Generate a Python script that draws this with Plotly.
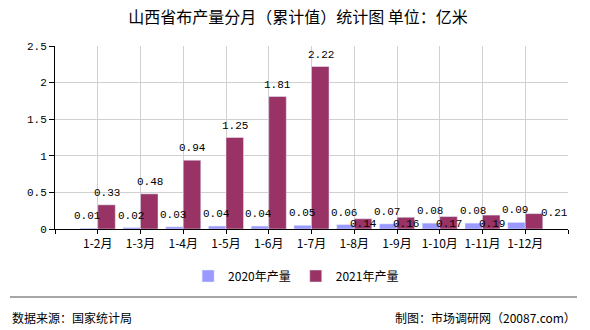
import plotly.graph_objects as go

categories = ["1-2月", "1-3月", "1-4月", "1-5月", "1-6月", "1-7月",
              "1-8月", "1-9月", "1-10月", "1-11月", "1-12月"]
output_2020 = [0.01, 0.02, 0.03, 0.04, 0.04, 0.05, 0.06, 0.07, 0.08, 0.08, 0.09]
output_2021 = [0.33, 0.48, 0.94, 1.25, 1.81, 2.22, 0.14, 0.16, 0.17, 0.19, 0.21]
y_ticks = [0, 0.5, 1, 1.5, 2, 2.5]
y_tick_text = ["0", "0.5", "1", "1.5", "2", "2.5"]

CJK = "Noto Sans CJK SC"
MONO = "Liberation Mono"
c2020 = "#9999FF"
c2021 = "#993366"

xs = list(range(len(categories)))

fig = go.Figure()
fig.add_trace(go.Bar(x=xs, y=output_2020, name="2020年产量", marker_color=c2020))
fig.add_trace(go.Bar(x=xs, y=output_2021, name="2021年产量", marker_color=c2021))

lab_font = dict(family=MONO, size=11, color="#000")
half = 9  # px offset from category centre to each bar's centre

# value labels, drawn above the bars
for i, v in enumerate(output_2020):
    fig.add_annotation(x=xs[i], y=v, text=f"{v:.2f}", showarrow=False,
                       xshift=-half - 1, yanchor="bottom", yshift=4, font=lab_font)
last = len(output_2021) - 1
for i, v in enumerate(output_2021):
    if i == last:
        fig.add_annotation(x=xs[i], y=v, text=f"{v:.2f}", showarrow=False,
                           xshift=half + 20, yanchor="middle", yshift=1, font=lab_font)
    elif v < 0.2:
        # low bars: label sits on the base, overlapping the bar
        fig.add_annotation(x=xs[i], y=0, text=f"{v:.2f}", showarrow=False,
                           xshift=half, yanchor="middle", yshift=5, font=lab_font)
    else:
        fig.add_annotation(x=xs[i], y=v, text=f"{v:.2f}", showarrow=False,
                           xshift=half, yanchor="bottom", yshift=4, font=lab_font)

fig.update_layout(
    width=590, height=330,
    margin=dict(l=55, r=22, t=46, b=101),
    paper_bgcolor="white", plot_bgcolor="white",
    barmode="group", bargap=0.18, bargroupgap=0,
    title=dict(text="山西省布产量分月（累计值）统计图 单位：亿米",
               x=0.505, xanchor="center", y=1 - 17 / 330, yanchor="middle",
               font=dict(family=CJK, size=16, color="#000")),
    showlegend=True,
    legend=dict(orientation="h", x=0.47, xanchor="center", y=-0.257, yanchor="middle",
                font=dict(family=CJK, size=12, color="#000"), itemwidth=30,
                traceorder="normal"),
    xaxis=dict(range=[-1, 11], tickmode="array", tickvals=list(range(-1, 12)),
               ticktext=[""] + categories + [""],
               showgrid=True, gridcolor="#d0d0d0", gridwidth=1,
               showline=True, linecolor="#000", linewidth=1,
               ticks="outside", ticklen=4, tickcolor="#000",
               tickfont=dict(family=CJK, size=12, color="#000"),
               zeroline=False, fixedrange=True),
    yaxis=dict(range=[0, 2.5], tickmode="array", tickvals=y_ticks, ticktext=y_tick_text,
               showgrid=True, gridcolor="#d0d0d0", gridwidth=1,
               showline=True, linecolor="#000", linewidth=1,
               ticks="outside", ticklen=5, tickcolor="#000",
               tickfont=dict(family=MONO, size=11, color="#000"),
               zeroline=False, fixedrange=True),
)

# separator line and footer
fig.add_shape(type="line", xref="paper", yref="paper",
              x0=(10 - 55) / 513, x1=(577 - 55) / 513,
              y0=(229 - 297) / 183, y1=(229 - 297) / 183,
              line=dict(color="#888888", width=1.5))
fig.add_annotation(xref="paper", yref="paper", x=(10 - 55) / 513, y=(229 - 317) / 183,
                   xanchor="left", yanchor="middle", showarrow=False,
                   text="数据来源：国家统计局",
                   font=dict(family=CJK, size=12, color="#000"))
fig.add_annotation(xref="paper", yref="paper", x=(578 - 55) / 513, y=(229 - 317) / 183,
                   xanchor="right", yanchor="middle", showarrow=False,
                   text="制图：市场调研网（20087.com）",
                   font=dict(family=CJK, size=12, color="#000"))

fig.write_html("out.html")
